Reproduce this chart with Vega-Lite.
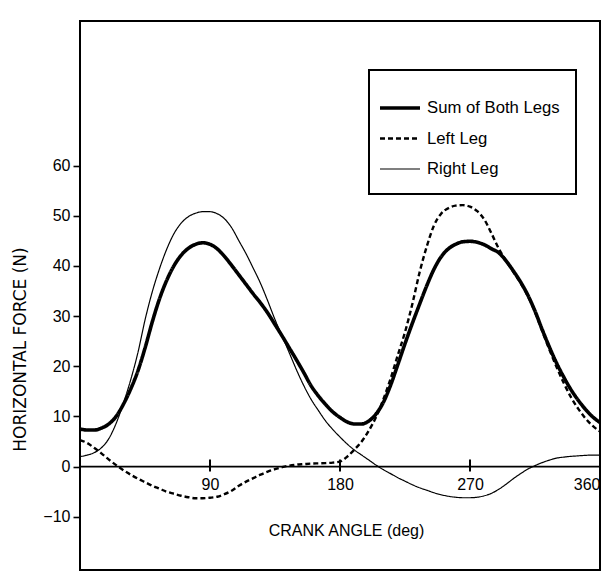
{
  "$schema": "https://vega.github.io/schema/vega-lite/v6.json",
  "width": 520,
  "height": 549,
  "autosize": {"type": "none"},
  "padding": {"left": 80, "top": 21, "right": 15, "bottom": 16},
  "background": "white",
  "config": {
    "view": {"stroke": "black", "strokeWidth": 2},
    "font": "Liberation Sans",
    "axis": {
      "labelFont": "Liberation Sans",
      "labelFontSize": 16,
      "labelColor": "black",
      "titleFont": "Liberation Sans",
      "titleFontSize": 16,
      "titleFontWeight": "normal",
      "titleColor": "black",
      "tickColor": "black",
      "domainColor": "black",
      "grid": false
    },
    "legend": {"strokeWidth": 2}
  },
  "layer": [
    {
      "data": {"values": [{"v": 0}]},
      "mark": {"type": "rule", "color": "black", "strokeWidth": 1.7},
      "encoding": {
        "y": {"field": "v", "type": "quantitative", "scale": {"domain": [-20.6, 88.8], "nice": false, "zero": false}}
      }
    },
    {
      "data": {
        "values": [
          {"a": 0, "Sum of Both Legs": 7.5, "Left Leg": 5.3, "Right Leg": 2.0},
          {"a": 5, "Sum of Both Legs": 7.3, "Left Leg": 4.7, "Right Leg": 2.3},
          {"a": 10, "Sum of Both Legs": 7.3, "Left Leg": 3.7, "Right Leg": 2.8},
          {"a": 15, "Sum of Both Legs": 7.7, "Left Leg": 2.6, "Right Leg": 3.8},
          {"a": 20, "Sum of Both Legs": 8.5, "Left Leg": 1.4, "Right Leg": 5.6},
          {"a": 25, "Sum of Both Legs": 10.0, "Left Leg": 0.3, "Right Leg": 8.6},
          {"a": 30, "Sum of Both Legs": 12.4, "Left Leg": -0.7, "Right Leg": 12.6},
          {"a": 35, "Sum of Both Legs": 15.4, "Left Leg": -1.6, "Right Leg": 17.2},
          {"a": 40, "Sum of Both Legs": 19.0, "Left Leg": -2.4, "Right Leg": 22.6},
          {"a": 45, "Sum of Both Legs": 23.6, "Left Leg": -3.1, "Right Leg": 29.2},
          {"a": 50, "Sum of Both Legs": 28.8, "Left Leg": -3.8, "Right Leg": 34.8},
          {"a": 55, "Sum of Both Legs": 33.4, "Left Leg": -4.4, "Right Leg": 39.4},
          {"a": 60, "Sum of Both Legs": 37.1, "Left Leg": -5.0, "Right Leg": 43.3},
          {"a": 65, "Sum of Both Legs": 40.0, "Left Leg": -5.4, "Right Leg": 46.4},
          {"a": 70, "Sum of Both Legs": 42.1, "Left Leg": -5.8, "Right Leg": 48.5},
          {"a": 75, "Sum of Both Legs": 43.5, "Left Leg": -6.1, "Right Leg": 49.8},
          {"a": 80, "Sum of Both Legs": 44.3, "Left Leg": -6.3, "Right Leg": 50.5},
          {"a": 85, "Sum of Both Legs": 44.6, "Left Leg": -6.3, "Right Leg": 50.8},
          {"a": 90, "Sum of Both Legs": 44.3, "Left Leg": -6.2, "Right Leg": 50.8},
          {"a": 95, "Sum of Both Legs": 43.4, "Left Leg": -6.0, "Right Leg": 50.4},
          {"a": 100, "Sum of Both Legs": 41.9, "Left Leg": -5.5, "Right Leg": 49.4},
          {"a": 105, "Sum of Both Legs": 40.1, "Left Leg": -4.8, "Right Leg": 47.6},
          {"a": 110, "Sum of Both Legs": 38.2, "Left Leg": -3.8, "Right Leg": 45.0},
          {"a": 115, "Sum of Both Legs": 36.3, "Left Leg": -3.0, "Right Leg": 42.4},
          {"a": 120, "Sum of Both Legs": 34.4, "Left Leg": -2.3, "Right Leg": 39.5},
          {"a": 125, "Sum of Both Legs": 32.6, "Left Leg": -1.6, "Right Leg": 36.5},
          {"a": 130, "Sum of Both Legs": 30.6, "Left Leg": -1.0, "Right Leg": 33.0},
          {"a": 135, "Sum of Both Legs": 28.3, "Left Leg": -0.5, "Right Leg": 29.3},
          {"a": 140, "Sum of Both Legs": 26.0, "Left Leg": -0.1, "Right Leg": 26.0},
          {"a": 145, "Sum of Both Legs": 23.6, "Left Leg": 0.2, "Right Leg": 22.6},
          {"a": 150, "Sum of Both Legs": 21.2, "Left Leg": 0.4, "Right Leg": 19.2},
          {"a": 155, "Sum of Both Legs": 18.7, "Left Leg": 0.5, "Right Leg": 16.1},
          {"a": 160, "Sum of Both Legs": 16.1, "Left Leg": 0.6, "Right Leg": 13.4},
          {"a": 165, "Sum of Both Legs": 14.1, "Left Leg": 0.65, "Right Leg": 11.2},
          {"a": 170, "Sum of Both Legs": 12.4, "Left Leg": 0.7, "Right Leg": 9.1},
          {"a": 175, "Sum of Both Legs": 10.9, "Left Leg": 0.8, "Right Leg": 7.4},
          {"a": 180, "Sum of Both Legs": 9.8, "Left Leg": 1.0, "Right Leg": 5.9},
          {"a": 185, "Sum of Both Legs": 8.9, "Left Leg": 2.0, "Right Leg": 4.5},
          {"a": 190, "Sum of Both Legs": 8.5, "Left Leg": 3.4, "Right Leg": 3.3},
          {"a": 195, "Sum of Both Legs": 8.5, "Left Leg": 5.0, "Right Leg": 2.3},
          {"a": 200, "Sum of Both Legs": 9.1, "Left Leg": 7.2, "Right Leg": 1.3},
          {"a": 205, "Sum of Both Legs": 10.5, "Left Leg": 9.9, "Right Leg": 0.3},
          {"a": 210, "Sum of Both Legs": 12.8, "Left Leg": 13.4, "Right Leg": -0.6},
          {"a": 215, "Sum of Both Legs": 16.2, "Left Leg": 17.5, "Right Leg": -1.4},
          {"a": 220, "Sum of Both Legs": 20.3, "Left Leg": 22.2, "Right Leg": -2.2},
          {"a": 225, "Sum of Both Legs": 24.5, "Left Leg": 26.8, "Right Leg": -2.9},
          {"a": 230, "Sum of Both Legs": 28.5, "Left Leg": 32.3, "Right Leg": -3.6},
          {"a": 235, "Sum of Both Legs": 32.3, "Left Leg": 38.6, "Right Leg": -4.2},
          {"a": 240, "Sum of Both Legs": 36.0, "Left Leg": 43.8, "Right Leg": -4.7},
          {"a": 245, "Sum of Both Legs": 39.3, "Left Leg": 48.0, "Right Leg": -5.2},
          {"a": 250, "Sum of Both Legs": 41.8, "Left Leg": 50.4, "Right Leg": -5.6},
          {"a": 255, "Sum of Both Legs": 43.4, "Left Leg": 51.5, "Right Leg": -5.9},
          {"a": 260, "Sum of Both Legs": 44.3, "Left Leg": 52.0, "Right Leg": -6.1},
          {"a": 265, "Sum of Both Legs": 44.8, "Left Leg": 52.1, "Right Leg": -6.2},
          {"a": 270, "Sum of Both Legs": 44.9, "Left Leg": 51.8, "Right Leg": -6.2},
          {"a": 275, "Sum of Both Legs": 44.7, "Left Leg": 50.9, "Right Leg": -6.1},
          {"a": 280, "Sum of Both Legs": 44.2, "Left Leg": 49.2, "Right Leg": -5.8},
          {"a": 285, "Sum of Both Legs": 43.4, "Left Leg": 46.4, "Right Leg": -5.3},
          {"a": 290, "Sum of Both Legs": 42.6, "Left Leg": 43.4, "Right Leg": -4.5},
          {"a": 295, "Sum of Both Legs": 41.0, "Left Leg": 41.0, "Right Leg": -3.5},
          {"a": 300, "Sum of Both Legs": 39.0, "Left Leg": 38.8, "Right Leg": -2.4},
          {"a": 305, "Sum of Both Legs": 36.8, "Left Leg": 36.6, "Right Leg": -1.4},
          {"a": 310, "Sum of Both Legs": 34.2, "Left Leg": 34.0, "Right Leg": -0.5},
          {"a": 315, "Sum of Both Legs": 31.0, "Left Leg": 30.8, "Right Leg": 0.2},
          {"a": 320, "Sum of Both Legs": 27.3, "Left Leg": 27.0, "Right Leg": 0.8},
          {"a": 325, "Sum of Both Legs": 23.8, "Left Leg": 23.3, "Right Leg": 1.3},
          {"a": 330, "Sum of Both Legs": 20.6, "Left Leg": 19.8, "Right Leg": 1.7},
          {"a": 335, "Sum of Both Legs": 17.8, "Left Leg": 16.6, "Right Leg": 1.9},
          {"a": 340, "Sum of Both Legs": 15.3, "Left Leg": 13.8, "Right Leg": 2.05},
          {"a": 345, "Sum of Both Legs": 13.2, "Left Leg": 11.5, "Right Leg": 2.15},
          {"a": 350, "Sum of Both Legs": 11.4, "Left Leg": 9.6, "Right Leg": 2.25},
          {"a": 355, "Sum of Both Legs": 9.9, "Left Leg": 8.1, "Right Leg": 2.3},
          {"a": 360, "Sum of Both Legs": 8.8, "Left Leg": 7.0, "Right Leg": 2.3}
        ]
      },
      "transform": [{"fold": ["Sum of Both Legs", "Left Leg", "Right Leg"], "as": ["k", "v"]}],
      "mark": {"type": "line", "color": "black", "interpolate": "monotone"},
      "encoding": {
        "x": {
          "field": "a",
          "type": "quantitative",
          "scale": {"domain": [0, 360], "nice": false, "zero": false},
          "axis": {
            "title": "CRANK ANGLE (deg)",
            "values": [90, 180, 270, 360],
            "offset": -103.4,
            "domain": false,
            "ticks": false,
            "labelPadding": 9.5,
            "labelBaseline": "top",
            "titleX": 266,
            "titleY": 63.4,
            "titleBaseline": "middle",
            "titleAlign": "center"
          }
        },
        "y": {
          "field": "v",
          "type": "quantitative",
          "scale": {"domain": [-20.6, 88.8], "nice": false, "zero": false},
          "axis": {
            "title": "HORIZONTAL FORCE (N)",
            "titleFont": "DejaVu Sans",
            "titleFontSize": 17,
            "values": [-10, 0, 10, 20, 30, 40, 50, 60],
            "domain": false,
            "tickSize": 7,
            "tickWidth": 1.6,
            "labelPadding": 3,
            "titleAngle": 270,
            "titleX": -60,
            "titleY": 328,
            "titleAlign": "center",
            "titleBaseline": "middle"
          }
        },
        "strokeDash": {
          "field": "k",
          "type": "nominal",
          "scale": {"domain": ["Sum of Both Legs", "Left Leg", "Right Leg"], "range": [[1, 0], [5, 3], [1, 0]]},
          "legend": {
            "title": null,
            "orient": "none",
            "legendX": 289,
            "legendY": 49,
            "symbolType": "stroke",
            "symbolSize": 1600,
            "symbolStrokeColor": "black",
            "symbolOffset": -7,
            "labelFont": "Liberation Sans",
            "labelFontSize": 16.7,
            "labelColor": "black",
            "labelOffset": 5,
            "strokeColor": "black",
            "padding": 16,
            "rowPadding": -12
          }
        },
        "strokeWidth": {
          "field": "k",
          "type": "nominal",
          "scale": {"type": "point", "domain": ["Sum of Both Legs", "Left Leg", "Right Leg"], "range": [3.6, 1.2]},
          "legend": {
            "title": null,
            "orient": "none",
            "legendX": 289,
            "legendY": 49,
            "symbolType": "stroke",
            "symbolSize": 1600,
            "symbolStrokeColor": "black",
            "symbolOffset": -7,
            "labelFont": "Liberation Sans",
            "labelFontSize": 16.7,
            "labelColor": "black",
            "labelOffset": 5,
            "strokeColor": "black",
            "padding": 16,
            "rowPadding": -12
          }
        }
      }
    },
    {
      "data": {"values": [{"a": 90, "v": 0.2}, {"a": 180, "v": 0.2}, {"a": 270, "v": 0.2}]},
      "mark": {"type": "point", "shape": "M0,-1L0,1", "filled": false, "color": "black", "strokeWidth": 2, "size": 144, "opacity": 1},
      "encoding": {
        "x": {"field": "a", "type": "quantitative"},
        "y": {"field": "v", "type": "quantitative"}
      }
    }
  ]
}
